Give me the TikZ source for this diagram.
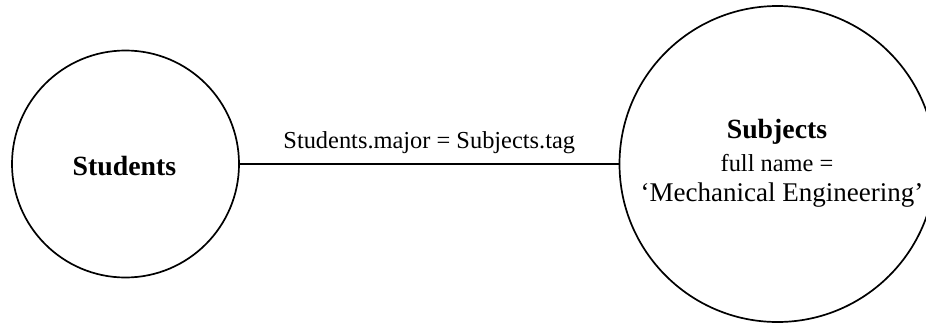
\documentclass[tikz,border=0pt]{standalone}
\usepackage{fontspec}
\setmainfont{Liberation Serif}
\begin{document}
\begin{tikzpicture}[x=1pt,y=-1pt,
  entity/.style={draw=black, line width=1.7pt, circle, inner sep=0pt},
  joinline/.style={draw=black, line width=1.7pt},
  entityname/.style={anchor=base, inner sep=0pt, font=\fontsize{27.8}{32}\selectfont\bfseries},
  plaintext/.style={anchor=base, inner sep=0pt, font=\fontsize{24.4}{28}\selectfont},
  bigtext/.style={anchor=base, inner sep=0pt, font=\fontsize{27}{31}\selectfont}]
  \useasboundingbox (0,0) rectangle (926,327);
  % the two relations
  \node[entity, minimum size=227pt] (students) at (125.5,164) {};
  \node[entity, minimum size=316pt] (subjects) at (777.5,164) {};
  % texts inside the circles
  \node[entityname] (studentsname) at (124.5,175) {Students};
  \node[entityname] (subjectsname) at (777,138.3) {Subjects};
  \node[plaintext] (cond1) at (777,171) {full name =};
  \node[bigtext] (cond2) at (782,201.7) {`Mechanical Engineering'};
  % join condition
  \draw[joinline] (students) -- (subjects)
    node[plaintext, pos=0.5, yshift=16pt] (joinlabel) {Students.major = Subjects.tag};
\end{tikzpicture}
\end{document}
